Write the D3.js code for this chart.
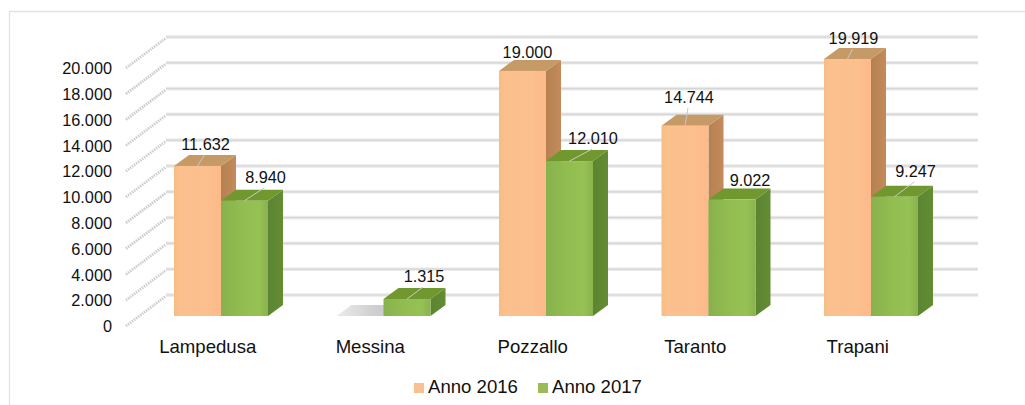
<!DOCTYPE html>
<html>
<head>
<meta charset="utf-8">
<script src="https://cdn.jsdelivr.net/npm/d3@7"></script>
<style>
  html, body { margin: 0; padding: 0; background: #fff; }
  svg { display: block; }
  text { font-family: "Liberation Sans", Arial, sans-serif; fill: #111; }
</style>
</head>
<body>
<div id="my_dataviz"></div>
<script>
// chart data
const ports = ["Lampedusa", "Messina", "Pozzallo", "Taranto", "Trapani"]
const years = ["Anno 2016", "Anno 2017"]
const anno2016 = [11632, 0, 19000, 14744, 19919]
const anno2017 = [8940, 1315, 12010, 9022, 9247]
const yTicks = [0, 2000, 4000, 6000, 8000, 10000, 12000, 14000, 16000, 18000, 20000]

const width = 1025
const height = 405

// 3D look: how far the bar tops and the back wall are pushed
const barDepth = { x: 15, y: -11 }
const wall = { x: 40, y: -21 }

const svg = d3.select("#my_dataviz")
  .append("svg")
    .attr("width", width)
    .attr("height", height)

const defs = svg.append("defs")
defs.append("filter").attr("id", "soft")
    .attr("x", "-5%").attr("y", "-5%").attr("width", "110%").attr("height", "110%")
  .append("feGaussianBlur").attr("stdDeviation", 0.6)
defs.append("filter").attr("id", "softer")
  .append("feGaussianBlur").attr("stdDeviation", 0.35)

function gradient(id, stops) {
  const g = defs.append("linearGradient").attr("id", id)
  stops.forEach(s => g.append("stop").attr("offset", s[0]).attr("stop-color", s[1]))
}
gradient("front16", [[0, "#f5bd82"], [0.12, "#fbc08d"], [0.7, "#fcbf8e"], [1, "#fdb98a"]])
gradient("front17", [[0, "#88b14e"], [0.4, "#91bc50"], [0.8, "#96c254"], [1, "#8ab24e"]])
gradient("side16", [[0, "#b5814f"], [1, "#c48a5c"]])
gradient("side17", [[0, "#5a8530"], [1, "#658c33"]])
gradient("floor", [[0, "#ececec"], [0.6, "#cfcfcf"], [1, "#c2c8d4"]])

const faces = [
  { front: "url(#front16)", side: "url(#side16)", top: "#c69a66" },
  { front: "url(#front17)", side: "url(#side17)", top: "#6f982f" }
]

// chart frame, it runs off the picture to the right and the bottom
svg.append("path")
  .attr("d", d3.line()([[9.5, height], [9.5, 11.5], [width, 11.5]]))
  .attr("fill", "none")
  .attr("stroke", "#e3e3e3")
  .attr("stroke-width", 1.3)

// scales
const x = d3.scaleBand().domain(ports).range([139.75, 952.25]).paddingInner(0).paddingOuter(0)
const barX = d3.scaleBand().domain(years).range([34.25, 128.25])
const y = d3.scaleLinear().domain([0, 20000]).range([316, 58])

const italian = d3.formatLocale({ decimal: ",", thousands: ".", grouping: [3], currency: ["", ""] })
const fmt = italian.format(",")

// back wall grid
const grid = svg.append("g").attr("filter", "url(#softer)")
yTicks.forEach(t => {
  const yb = y(t) + wall.y
  grid.append("line")
    .attr("x1", 166).attr("x2", 978).attr("y1", yb).attr("y2", yb)
    .attr("stroke", "#e9e9e9").attr("stroke-width", 3.6)
  grid.append("line")
    .attr("x1", 166).attr("x2", 978).attr("y1", yb).attr("y2", yb)
    .attr("stroke", "#d6d6d6").attr("stroke-width", 1.2)
  // hatched floor/side edge
  grid.append("line")
    .attr("x1", 126).attr("x2", 166).attr("y1", yb + 31).attr("y2", yb + 1)
    .attr("stroke", "#cccccc").attr("stroke-width", 2.8)
    .attr("stroke-dasharray", "1.5 1")
})

// value axis
const yAxis = d3.axisLeft(y).tickValues(yTicks).tickFormat(fmt).tickSize(0).tickPadding(0)
const yAxisG = svg.append("g")
  .attr("transform", "translate(112,10.5)")
  .call(yAxis)
yAxisG.select(".domain").remove()
yAxisG.selectAll("text")
  .attr("dy", "0.32em")
  .style("font-size", "16.3px")
  .style("font-family", "'Liberation Sans', Arial, sans-serif")

// bars
const series = [anno2016, anno2017]
const bars = svg.append("g").attr("filter", "url(#soft)")
series.forEach((values, s) => {
  ports.forEach((p, i) => {
    const x0 = x(p) + barX(years[s])
    const x1 = x0 + barX.bandwidth()
    const y0 = y(0)
    const y1 = y(values[i])
    const dx = barDepth.x
    const dy = barDepth.y
    const g = bars.append("g")
    if (values[i] === 0) {
      // empty bar only leaves a flat grey patch on the floor
      g.append("polygon")
        .attr("points", [[x0, y0], [x1, y0], [x1 + dx, y0 + dy], [x0 + dx, y0 + dy]].join(" "))
        .attr("fill", "url(#floor)")
      return
    }
    g.append("polygon")
      .attr("points", [[x1, y0], [x1 + dx, y0 + dy], [x1 + dx, y1 + dy], [x1, y1]].join(" "))
      .attr("fill", faces[s].side)
    g.append("polygon")
      .attr("points", [[x0, y1], [x1, y1], [x1 + dx, y1 + dy], [x0 + dx, y1 + dy]].join(" "))
      .attr("fill", faces[s].top)
    g.append("rect")
      .attr("x", x0).attr("y", y1)
      .attr("width", x1 - x0).attr("height", y0 - y1)
      .attr("fill", faces[s].front)
  })
})

// data labels: moved by hand off the bars like in the original, some keep a leader line
const labelShift = [
  [[8, -16, true], null, [5, -13, false], [4, -23, true], [6, -15, true]],
  [[21, -18, true], [17, -17, true], [23.5, -17, true], [18, -14, false], [21, -20, true]]
]
series.forEach((values, s) => {
  ports.forEach((p, i) => {
    const shift = labelShift[s][i]
    if (!shift) return
    const cx = x(p) + barX(years[s]) + barX.bandwidth() / 2
    const top = y(values[i])
    if (shift[2]) {
      svg.append("line")
        .attr("x1", cx).attr("y1", top)
        .attr("x2", cx + shift[0] - 1).attr("y2", top + shift[1] + 5)
        .attr("stroke", "#c9c9c9").attr("stroke-width", 1)
    }
    svg.append("text")
      .attr("x", cx + shift[0])
      .attr("y", top + shift[1])
      .attr("text-anchor", "middle")
      .style("font-size", "16.3px")
      .text(fmt(values[i]))
  })
})

// category labels
svg.append("g").selectAll("text")
  .data(ports)
  .join("text")
    .attr("x", d => x(d) + 68)
    .attr("y", 353)
    .attr("text-anchor", "middle")
    .style("font-size", "18.6px")
    .text(d => d)

// legend
const legendX = [414, 538]
const legendColor = ["#fac090", "#9bbb59"]
const legend = svg.append("g")
years.forEach((name, i) => {
  legend.append("rect")
    .attr("x", legendX[i]).attr("y", 383)
    .attr("width", 10).attr("height", 10)
    .attr("fill", legendColor[i])
  legend.append("text")
    .attr("x", legendX[i] + 14).attr("y", 393)
    .style("font-size", "18.6px")
    .text(name)
})
</script>
</body>
</html>
